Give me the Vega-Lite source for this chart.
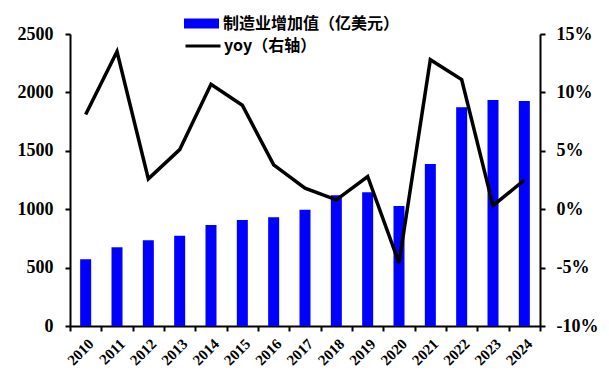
{
  "$schema": "https://vega.github.io/schema/vega-lite/v6.json",
  "width": 470,
  "height": 292,
  "autosize": {"type": "none"},
  "padding": {"left": 70, "top": 34, "right": 69, "bottom": 46},
  "background": "white",
  "config": {
    "view": {"stroke": null},
    "axis": {
      "domainColor": "black",
      "domainWidth": 2,
      "tickColor": "black",
      "tickWidth": 2,
      "tickSize": 5,
      "grid": false,
      "labelFont": "Liberation Serif",
      "labelFontWeight": "bold",
      "labelColor": "black",
      "title": null
    },
    "legend": {
      "labelFont": "Noto Sans CJK SC",
      "labelFontSize": 16,
      "labelFontWeight": "bold",
      "labelColor": "black",
      "labelLimit": 400,
      "padding": 0,
      "title": null
    }
  },
  "data": {
    "values": [
      {"year": "2010", "value": 571, "yoy": 8.1},
      {"year": "2011", "value": 674, "yoy": 13.5},
      {"year": "2012", "value": 734, "yoy": 2.6},
      {"year": "2013", "value": 773, "yoy": 5.1},
      {"year": "2014", "value": 865, "yoy": 10.7},
      {"year": "2015", "value": 908, "yoy": 8.9},
      {"year": "2016", "value": 931, "yoy": 3.8},
      {"year": "2017", "value": 996, "yoy": 1.8},
      {"year": "2018", "value": 1119, "yoy": 0.8},
      {"year": "2019", "value": 1145, "yoy": 2.8},
      {"year": "2020", "value": 1027, "yoy": -4.6},
      {"year": "2021", "value": 1387, "yoy": 12.8},
      {"year": "2022", "value": 1872, "yoy": 11.1},
      {"year": "2023", "value": 1935, "yoy": 0.3},
      {"year": "2024", "value": 1926, "yoy": 2.5}
    ]
  },
  "encoding": {
    "x": {
      "field": "year",
      "type": "ordinal",
      "scale": {"paddingInner": 0, "paddingOuter": 0},
      "axis": {
        "labelAngle": -45,
        "labelFont": "Liberation Serif",
        "labelFontSize": 15,
        "tickBand": "extent",
        "labelPadding": 5
      }
    }
  },
  "layer": [
    {
      "mark": {"type": "bar", "size": 11},
      "encoding": {
        "y": {
          "field": "value",
          "type": "quantitative",
          "scale": {"domain": [0, 2500], "nice": false},
          "axis": {"values": [0, 500, 1000, 1500, 2000, 2500], "format": "d", "labelFont": "Liberation Serif", "labelFontSize": 18, "labelPadding": 12}
        },
        "fill": {
          "datum": "制造业增加值（亿美元）",
          "scale": {"range": ["#0000FF"]},
          "legend": {
            "orient": "none",
            "legendX": 114,
            "legendY": -28,
            "symbolType": "M-1,-0.29H1V0.29H-1Z",
            "symbolSize": 1225,
            "symbolStrokeWidth": 0,
            "labelOffset": 4
          }
        }
      }
    },
    {
      "mark": {"type": "line", "strokeWidth": 3.5, "strokeJoin": "miter"},
      "encoding": {
        "y": {
          "field": "yoy",
          "type": "quantitative",
          "scale": {"domain": [-10, 15], "nice": false},
          "axis": {
            "orient": "right",
            "values": [-10, -5, 0, 5, 10, 15],
            "labelExpr": "datum.value + '%'",
            "labelFont": "Liberation Serif",
            "labelFontSize": 18,
            "labelPadding": 11
          }
        },
        "stroke": {
          "datum": "yoy（右轴）",
          "scale": {"range": ["black"]},
          "legend": {
            "orient": "none",
            "legendX": 114,
            "legendY": -7,
            "symbolType": "stroke",
            "symbolSize": 1225,
            "symbolStrokeWidth": 3,
            "labelOffset": 2
          }
        }
      }
    }
  ],
  "resolve": {"scale": {"y": "independent"}}
}
